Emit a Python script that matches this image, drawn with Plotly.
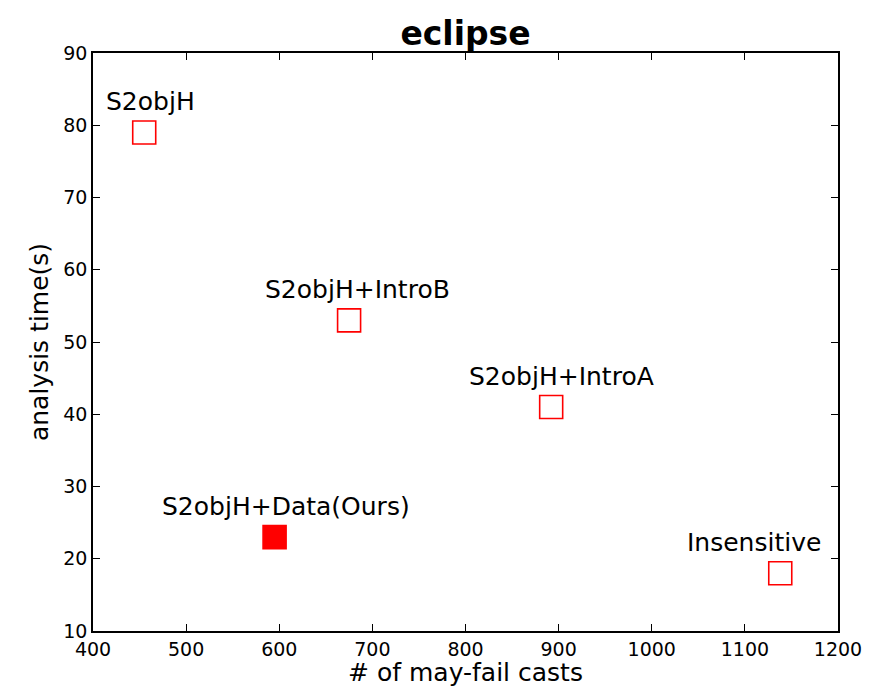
import plotly.graph_objects as go

methods = ["S2objH", "S2objH+IntroB", "S2objH+IntroA", "S2objH+Data(Ours)", "Insensitive"]
casts = [455, 675, 892, 595, 1138]
times = [79, 53, 41, 23, 18]
filled = [False, False, False, True, False]
label_dx = [6, 8, 10, 11, -26]

FONT = "DejaVu Sans"

fig = go.Figure()
fig.add_trace(go.Scatter(
    x=casts, y=times, mode="markers",
    marker=dict(symbol="square", size=23,
                color=["red" if f else "rgba(255,255,255,0)" for f in filled],
                line=dict(color="red", width=1.6)),
    hoverinfo="text", text=methods, showlegend=False,
))

for m, x, y, dx in zip(methods, casts, times, label_dx):
    fig.add_annotation(x=x, y=y, xref="x", yref="y", text=m, showarrow=False,
                       xanchor="center", yanchor="middle", xshift=dx, yshift=31,
                       font=dict(family=FONT, size=25, color="black"))

axis_common = dict(showline=True, linecolor="black", linewidth=1.5, mirror="ticks",
                   ticks="inside", ticklen=7, tickwidth=1.2, tickcolor="black",
                   showgrid=False, zeroline=False, automargin=False,
                   tickfont=dict(family=FONT, size=19, color="black"))

fig.update_layout(
    width=891, height=687,
    margin=dict(l=93, r=53, t=53, b=56),
    paper_bgcolor="white", plot_bgcolor="white",
    title=dict(text="<b>eclipse</b>", x=0.5, xref="paper", xanchor="center",
               y=1, yref="container", yanchor="top", pad=dict(t=22),
               font=dict(family=FONT, size=33, color="black")),
    xaxis=dict(range=[400, 1200], tickvals=[400, 500, 600, 700, 800, 900, 1000, 1100, 1200],
               title=dict(text="# of may-fail casts", standoff=8,
                          font=dict(family=FONT, size=25, color="black")),
               **axis_common),
    yaxis=dict(range=[10, 90], tickvals=[10, 20, 30, 40, 50, 60, 70, 80, 90],
               title=dict(text="analysis time(s)", standoff=8,
                          font=dict(family=FONT, size=25, color="black")),
               **axis_common),
)

fig.write_html("out.html")
